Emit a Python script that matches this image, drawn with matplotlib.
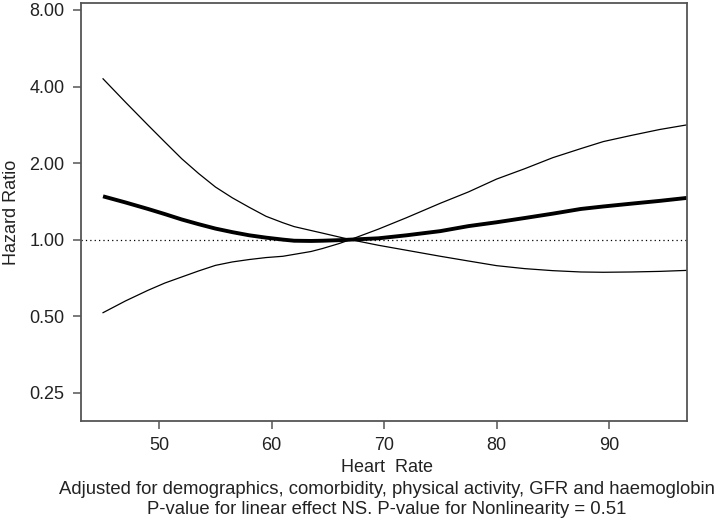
import numpy as np
import matplotlib
matplotlib.use("Agg")
import matplotlib.pyplot as plt
from matplotlib.ticker import FixedLocator, NullLocator

# values (log-scale hazard ratio curve with 95% CI)
heart_rate = [45, 47, 49, 50.5, 52, 53.5, 55, 56.5, 58, 59.5, 61, 62, 63.5, 64.5,
              66, 67, 69.5, 72, 75, 77.5, 80, 82.5, 85, 87.5, 89.5, 92, 94.5, 97]
hr_mean = [1.48, 1.40, 1.32, 1.26, 1.20, 1.15, 1.105, 1.07, 1.04, 1.018, 1.0, 0.99, 0.988, 0.99,
           0.995, 1.0, 1.012, 1.04, 1.08, 1.13, 1.17, 1.216, 1.265, 1.32, 1.35, 1.385, 1.42, 1.46]
hr_upper = [4.29, 3.47, 2.82, 2.42, 2.08, 1.82, 1.61, 1.46, 1.34, 1.235, 1.165, 1.125, 1.086, 1.061,
            1.024, 1.0, 1.10, 1.22, 1.39, 1.54, 1.73, 1.90, 2.10, 2.28, 2.43, 2.57, 2.71, 2.83]
hr_lower = [0.516, 0.574, 0.632, 0.675, 0.713, 0.753, 0.792, 0.817, 0.835, 0.85, 0.86, 0.875, 0.898, 0.922,
            0.965, 1.0, 0.95, 0.908, 0.86, 0.824, 0.79, 0.769, 0.755, 0.746, 0.744, 0.746, 0.750, 0.757]

y_ticks = [0.25, 0.5, 1, 2, 4, 8]
y_ticklabels = ["0.25", "0.50", "1.00", "2.00", "4.00", "8.00"]
x_ticks = [50, 60, 70, 80, 90]

plt.rcParams["font.family"] = ["Liberation Sans", "DejaVu Sans"]
fs = 13
txt = "#222222"

fig = plt.figure(figsize=(7.2, 5.31), dpi=100)
ax = fig.add_axes([0.1125, 0.2077, 0.954 - 0.1125, 0.9938 - 0.2077])

ax.plot(heart_rate, hr_upper, color="black", lw=0.9)
ax.plot(heart_rate, hr_lower, color="black", lw=0.9)
ax.plot(heart_rate, hr_mean, color="black", lw=2.8, solid_capstyle="butt")
ax.axhline(1.0, color="black", lw=0.9, ls=(0, (1, 2.5)))

ax.set_yscale("log", base=2)
ax.set_ylim(0.194, 8.5)
ax.set_xlim(43.04, 96.93)
ax.yaxis.set_major_locator(FixedLocator(y_ticks))
ax.yaxis.set_minor_locator(NullLocator())
ax.set_yticklabels(y_ticklabels)
ax.set_xticks(x_ticks)

for s in ax.spines.values():
    s.set_color("#555555")
    s.set_linewidth(1.3)
ax.tick_params(axis="both", length=6, width=1.1, color="#555555",
               labelsize=fs, labelcolor=txt, pad=6)

ax.set_ylabel("Hazard Ratio", fontsize=fs, color=txt)
ax.yaxis.set_label_coords(-0.1, 0.5)

fig.text(0.537, 1 - 467 / 531, "Heart  Rate", ha="center", va="center",
         fontsize=fs, color=txt)
fig.text(0.537, 1 - 489 / 531,
         "Adjusted for demographics, comorbidity, physical activity, GFR and haemoglobin",
         ha="center", va="center", fontsize=13.3, color=txt)
fig.text(0.537, 1 - 510 / 531,
         "P-value for linear effect NS. P-value for Nonlinearity = 0.51",
         ha="center", va="center", fontsize=13.3, color=txt)

fig.savefig("out.png", dpi=100)
